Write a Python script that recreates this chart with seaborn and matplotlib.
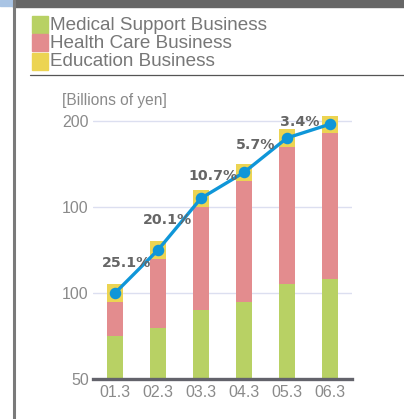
import matplotlib
matplotlib.use("Agg")
import matplotlib.pyplot as plt
from matplotlib.patches import Rectangle
from matplotlib.lines import Line2D
import seaborn as sns

# Fiscal periods and segment sales (billions of yen)
periods = ["01.3", "02.3", "03.3", "04.3", "05.3", "06.3"]
medical_support = [75, 80, 90, 95, 105, 108]
health_care = [20, 40, 60, 70, 80, 85]
education = [10, 10, 10, 10, 10, 10]
trend = [100, 125, 155, 170, 190, 198]
growth_labels = ["25.1%", "20.1%", "10.7%", "5.7%", "3.4%"]

y_ticks = [50, 100, 150, 200]
y_tick_labels = ["50", "100", "100", "200"]
series_names = ["Medical Support Business", "Health Care Business", "Education Business"]

# Styling
GREEN = "#b8d164"
PINK = "#e38c8e"
YELLOW = "#ecd452"
BLUE = "#0f96d8"
TEXT_GRAY = "#8a8a8a"
LABEL_GRAY = "#666666"

sns.set_theme(style="white")
plt.rcParams["font.family"] = ["Liberation Sans", "DejaVu Sans"]

W, H = 404, 419
fig = plt.figure(figsize=(W / 100, H / 100), dpi=100)

def fx(px):
    return px / W

def fy(py):
    return 1 - py / H

# Frame decorations: top band, left rule, separator under the legend
fig.patches.append(Rectangle((fx(13), fy(7)), fx(W - 13), 7 / H, transform=fig.transFigure,
                             color="#666666", zorder=0))
fig.patches.append(Rectangle((0, fy(6)), fx(13), 6 / H, transform=fig.transFigure,
                             color="#a9c4e4", zorder=0))
fig.lines.append(Line2D([fx(14.5), fx(14.5)], [0, 1], transform=fig.transFigure,
                        color="#7a7a7a", linewidth=2.2))
fig.lines.append(Line2D([fx(30), 1], [fy(75), fy(75)], transform=fig.transFigure,
                        color="#555555", linewidth=0.9))

# Legend swatches
for row, (name, col) in enumerate(zip(series_names, [GREEN, PINK, YELLOW])):
    top = 16 + row * 18.5
    fig.patches.append(Rectangle((fx(31.5), fy(top + 17)), fx(16), 17 / H,
                                 transform=fig.transFigure, color=col))
    fig.text(fx(50), fy(top + 9), name, fontsize=13.6, color="#777777",
             va="center", ha="left")

fig.text(fx(62), fy(101), "[Billions of yen]", fontsize=11.2, color=TEXT_GRAY,
         va="center", ha="left")

# Plot area
y_lo, y_hi = 50, 210
px_per_unit = 86.2 / 50
ax_bottom_px = 379.3
ax_h_px = (y_hi - y_lo) * px_per_unit
ax = fig.add_axes([fx(93), (H - ax_bottom_px) / H, fx(259), ax_h_px / H])

tot_pink = [m + h for m, h in zip(medical_support, health_care)]
tot_all = [p + e for p, e in zip(tot_pink, education)]

bar_w = 0.37
bar_kw = dict(saturation=1, width=bar_w, ax=ax, zorder=2, linewidth=0, edgecolor="none")
sns.barplot(x=periods, y=tot_all, color=YELLOW, **bar_kw)
sns.barplot(x=periods, y=tot_pink, color=PINK, **bar_kw)
sns.barplot(x=periods, y=medical_support, color=GREEN, **bar_kw)
sns.pointplot(x=periods, y=trend, color=BLUE, markers="o", markersize=6.5,
              linewidth=2.4, ax=ax, zorder=4)
for coll in ax.collections:
    coll.set_clip_on(False)
for ln in ax.lines:
    ln.set_clip_on(False)

# Growth-rate annotations, offset from each trend point (pixels)
offsets_px = [(12, 30), (10, 30), (12, 22), (12, 27), (13, 16)]
for i, (txt, (dx, dy)) in enumerate(zip(growth_labels, offsets_px)):
    ax.annotate(txt, xy=(i, trend[i]), xytext=(dx * 0.72, dy * 0.72),
                textcoords="offset points", ha="center", va="center",
                fontsize=10.2, fontweight="bold", color=LABEL_GRAY,
                family=["DejaVu Sans"], zorder=5)

ax.set_xlim(-0.51, 5.51)
ax.set_ylim(y_lo, y_hi)
ax.set_yticks(y_ticks)
ax.set_yticklabels(y_tick_labels)
ax.set_xlabel("")
ax.set_ylabel("")
ax.tick_params(axis="both", length=0, labelsize=11.5, labelcolor=TEXT_GRAY)
ax.tick_params(axis="y", pad=3)
ax.tick_params(axis="x", pad=4)
ax.yaxis.grid(True, color="#dcdff0", linewidth=1.0, zorder=0)
ax.set_axisbelow(True)
for side in ["top", "right", "left"]:
    ax.spines[side].set_visible(False)
ax.spines["bottom"].set_color("#63636b")
ax.spines["bottom"].set_linewidth(2.4)
ax.spines["bottom"].set_zorder(6)
ax.patch.set_alpha(0)

fig.savefig("out.png", dpi=100)
